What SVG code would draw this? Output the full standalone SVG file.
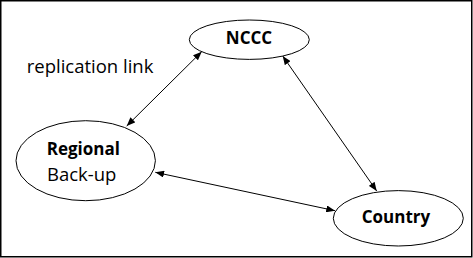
<svg xmlns="http://www.w3.org/2000/svg" width="473" height="258" viewBox="0 0 473 258">
<defs>
<style>
.node{fill:#fff;stroke:#000;stroke-width:1}
.t{font-family:"Open Sans","Noto Sans",sans-serif;font-size:18.5px;fill:#000}
.b{font-weight:bold;font-size:17px}
.c{stroke:#000;stroke-width:1;fill:none;marker-start:url(#ah);marker-end:url(#ah)}
</style>
<marker id="ah" viewBox="0 0 10 8" refX="10" refY="4" markerWidth="9" markerHeight="7" markerUnits="userSpaceOnUse" orient="auto-start-reverse">
<path d="M0,0 L10,4 L0,8 Z" fill="#000"/>
</marker>
</defs>
<rect x="0.75" y="0.75" width="471" height="256" fill="#fff" stroke="#000" stroke-width="1.5"/>
<g id="connectors">
<line class="c" x1="126.7" y1="126" x2="201.7" y2="51.7"/>
<line class="c" x1="282.7" y1="56" x2="376.7" y2="191"/>
<line class="c" x1="155.3" y1="172.3" x2="335" y2="210.7"/>
</g>
<g id="NCCC">
<ellipse class="node" cx="249.3" cy="39.7" rx="60" ry="19.7"/>
<text class="t b" x="249" y="43.5" text-anchor="middle">NCCC</text>
</g>
<g id="Regional">
<ellipse class="node" cx="85.7" cy="160.7" rx="69.7" ry="40"/>
<text class="t b" x="46.7" y="155">Regional</text>
<text class="t" x="47" y="181">Back-up</text>
</g>
<g id="Country">
<ellipse class="node" cx="398.3" cy="218.3" rx="65" ry="27.7"/>
<text class="t b" x="396" y="222.7" text-anchor="middle">Country</text>
</g>
<text id="label" class="t" x="26.7" y="73.3">replication link</text>
</svg>
